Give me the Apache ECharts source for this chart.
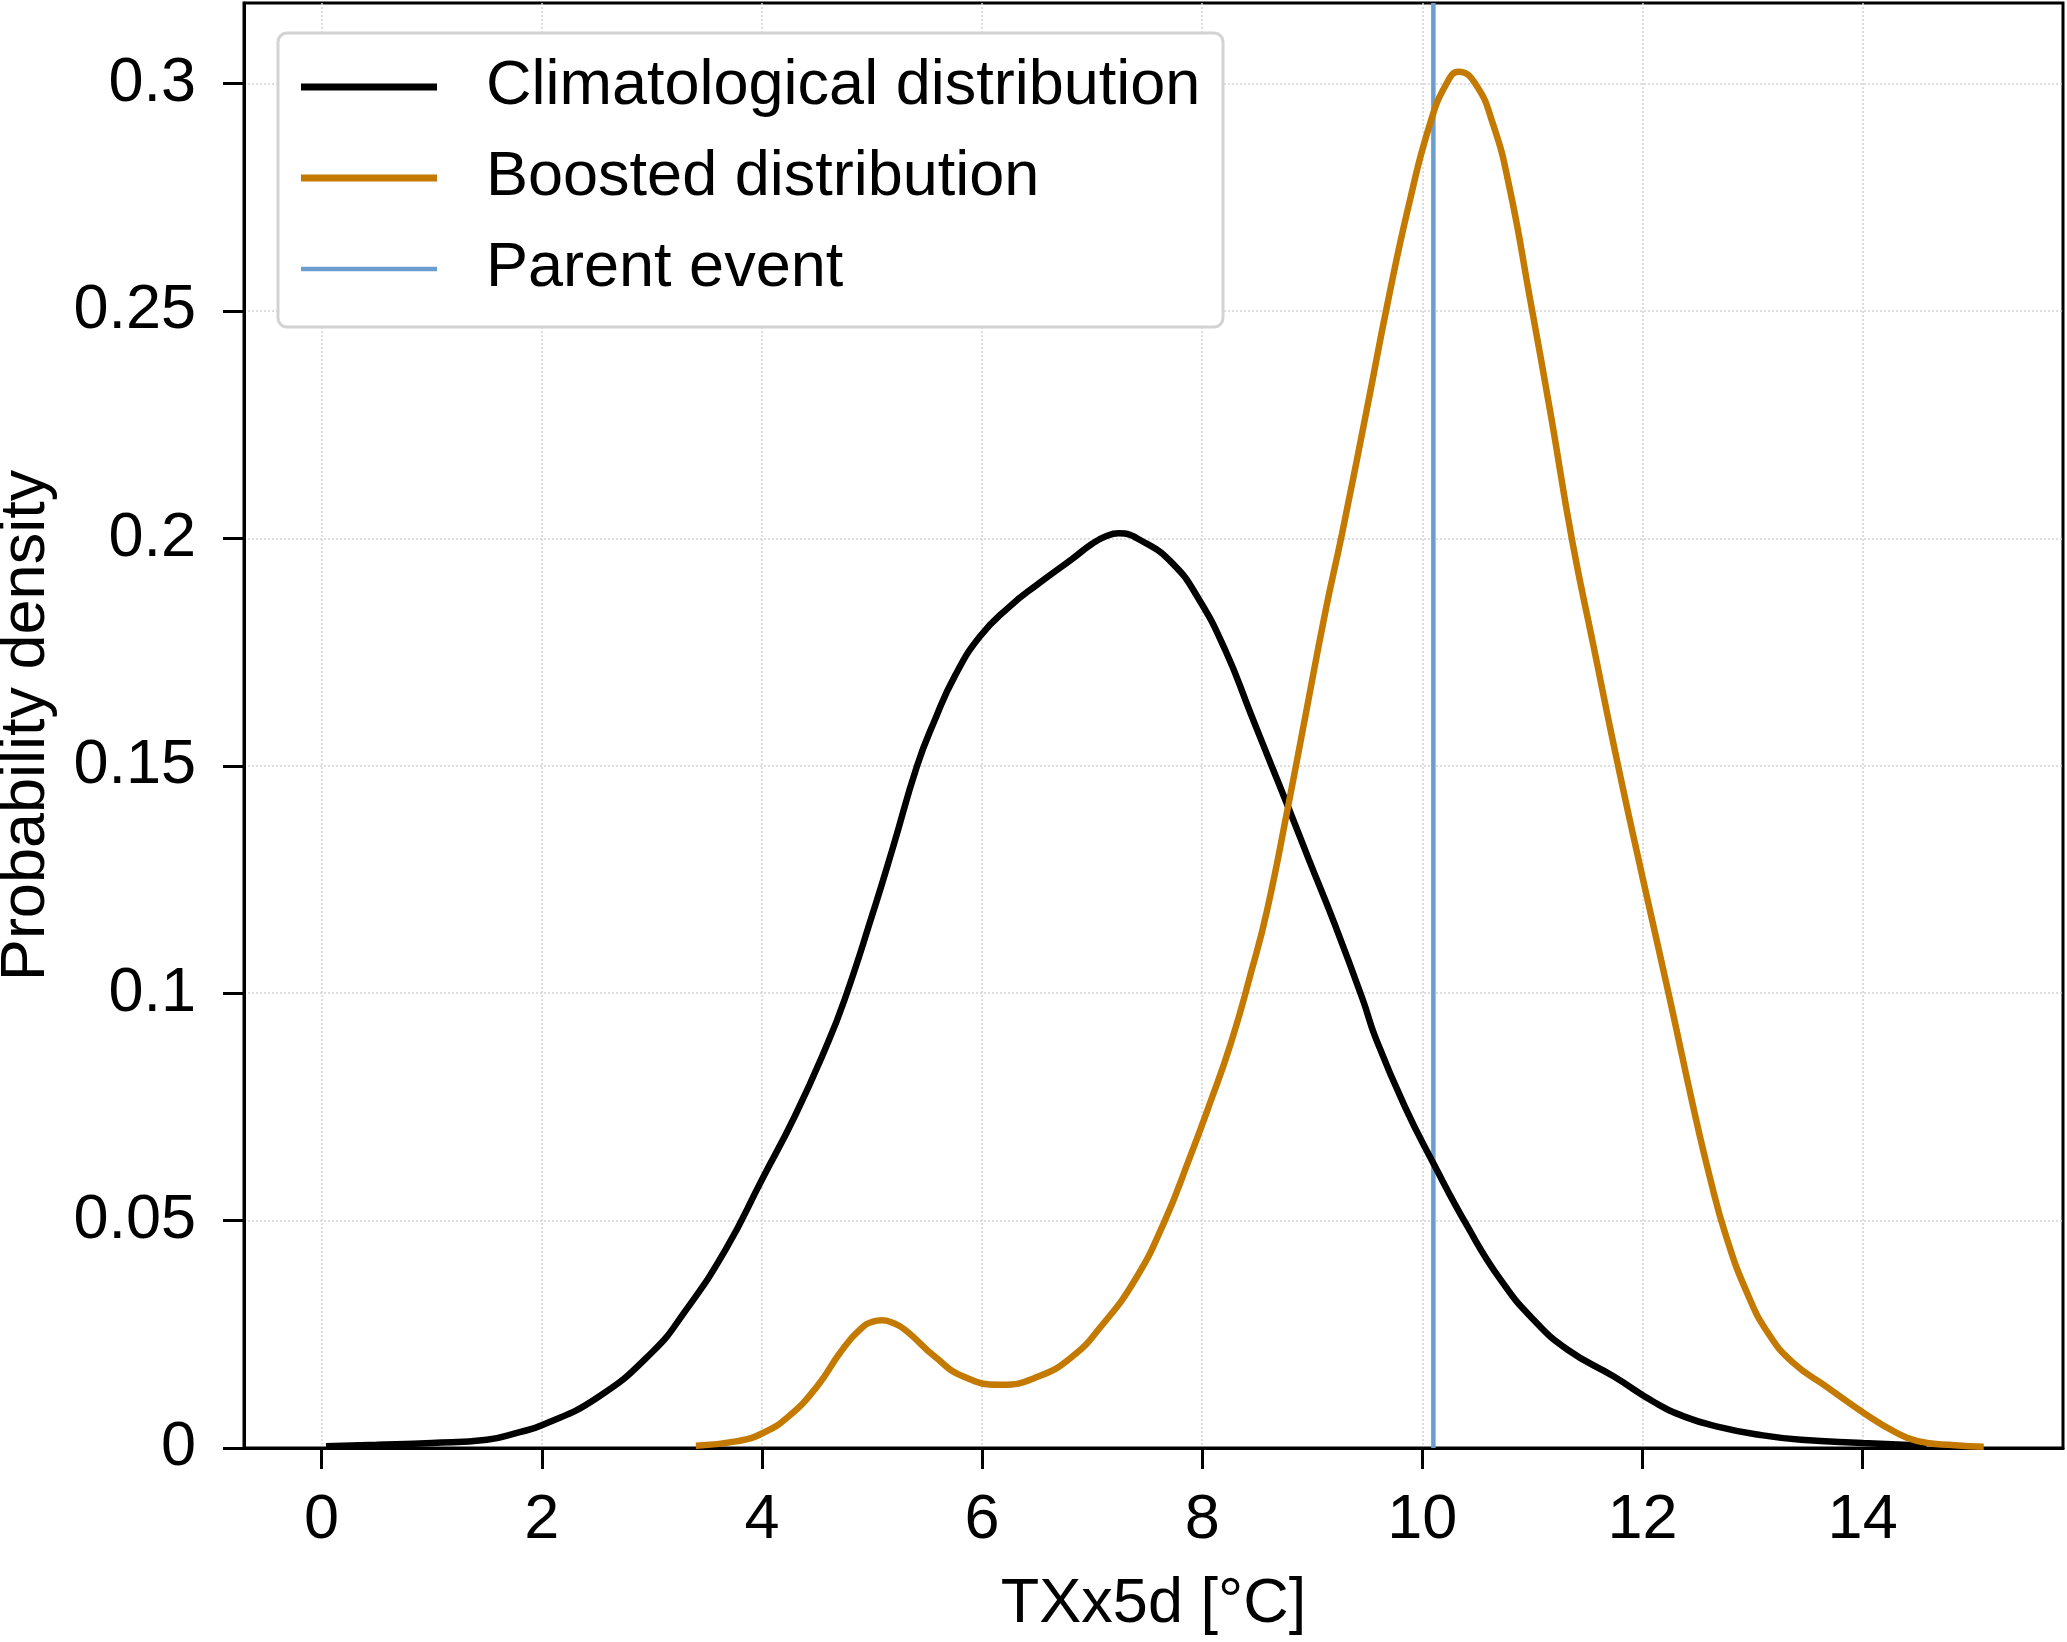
<!DOCTYPE html>
<html><head><meta charset="utf-8">
<script src="https://cdn.jsdelivr.net/npm/echarts@6/dist/echarts.min.js"></script>
<style>html,body{margin:0;padding:0;background:#fff}#c{width:2067px;height:1642px}</style>
</head><body><div id="c"></div>
<script>
// ---- data ----
const climX = [0.04, 0.5, 1.0, 1.5, 1.8, 2.0, 2.5, 3.0, 3.3, 3.67, 4.0, 4.3, 4.58, 4.75, 5.0, 5.19, 5.41, 5.57, 5.75, 5.98, 6.25, 6.51, 6.82, 7.0, 7.12, 7.24, 7.46, 7.73, 7.96, 8.21, 8.44, 8.63, 8.78, 8.97, 9.2, 9.46, 9.57, 9.84, 10.1, 10.41, 10.71, 11.01, 11.32, 11.74, 12.12, 12.38, 12.68, 13.06, 13.44, 14.0, 14.58];
const climY = [0.0004, 0.0007, 0.0011, 0.0018, 0.0035, 0.005, 0.011, 0.021, 0.030, 0.0436, 0.059, 0.073, 0.088, 0.0985, 0.117, 0.132, 0.150, 0.160, 0.1696, 0.1784, 0.185, 0.190, 0.1955, 0.1988, 0.2004, 0.2011, 0.1993, 0.1945, 0.187, 0.1754, 0.1615, 0.150, 0.141, 0.1293, 0.1154, 0.0985, 0.0905, 0.0751, 0.0626, 0.0487, 0.037, 0.0282, 0.0216, 0.0157, 0.0099, 0.0069, 0.0047, 0.0029, 0.0018, 0.0011, 0.0005];
const boostX = [3.40, 3.78, 4.01, 4.24, 4.50, 4.73, 4.92, 5.00, 5.09, 5.18, 5.30, 5.57, 5.83, 6.17, 6.51, 6.82, 7.08, 7.39, 7.65, 7.88, 8.07, 8.26, 8.45, 8.59, 8.78, 8.93, 9.12, 9.27, 9.50, 9.69, 9.88, 10.07, 10.22, 10.33, 10.48, 10.64, 10.79, 10.98, 11.17, 11.36, 11.55, 11.78, 12.00, 12.25, 12.46, 12.61, 12.76, 12.95, 13.14, 13.37, 13.67, 14.01, 14.28, 14.50, 14.84, 15.10];
const boostY = [0.0005, 0.0015, 0.0033, 0.0069, 0.0135, 0.0216, 0.0267, 0.0277, 0.0281, 0.0276, 0.0260, 0.0201, 0.0157, 0.0139, 0.0157, 0.0201, 0.0267, 0.0370, 0.0494, 0.0634, 0.0758, 0.0890, 0.1051, 0.1183, 0.1410, 0.1600, 0.1840, 0.2010, 0.2289, 0.2524, 0.2736, 0.2912, 0.3000, 0.3026, 0.3000, 0.2912, 0.2773, 0.2524, 0.2267, 0.1996, 0.1769, 0.1498, 0.1255, 0.0985, 0.0751, 0.0597, 0.0465, 0.0341, 0.0253, 0.0187, 0.0135, 0.0077, 0.0037, 0.0015, 0.0006, 0.0003];
const parentEvent = 10.1;
const xTicks = [0, 2, 4, 6, 8, 10, 12, 14];
const yTicks = [0, 0.05, 0.1, 0.15, 0.2, 0.25, 0.3];
const xRange = [-0.705, 15.82];
const yRange = [0, 0.3177];
const seriesNames = ['Climatological distribution', 'Boosted distribution', 'Parent event'];
const xLabel = 'TXx5d [°C]';
const yLabel = 'Probability density';

// ---- chart ----
const FONT = 'Liberation Sans';
const FS = 63;
const pairs = (xs, ys) => xs.map((x, i) => [x, ys[i]]);
const chart = echarts.init(document.getElementById('c'), null, {renderer: 'canvas'});
const axisCommon = {
  axisLine: {show: true, onZero: false, lineStyle: {color: '#000', width: 3}},
  axisTick: {show: true, inside: false, length: 21, lineStyle: {color: '#000', width: 3}},
  splitLine: {show: true, lineStyle: {color: '#d4d4d4', width: 1.5, type: [2, 2]}},
  nameTextStyle: {fontFamily: FONT, fontSize: FS, color: '#000'},
  nameLocation: 'middle'
};
chart.setOption({
  animation: false,
  backgroundColor: '#fff',
  textStyle: {fontFamily: FONT},
  grid: {left: 244, right: 4, top: 3, bottom: 194, containLabel: false, outerBoundsMode: 'none',
         show: true, borderColor: '#000', borderWidth: 3, backgroundColor: 'transparent'},
  xAxis: Object.assign({}, axisCommon, {
    type: 'value', min: xRange[0], max: xRange[1], splitNumber: 8,
    name: xLabel, nameGap: 125,
    axisTick: Object.assign({}, axisCommon.axisTick, {customValues: xTicks}),
    axisLabel: {customValues: xTicks, fontFamily: FONT, fontSize: FS, color: '#000', margin: 41, formatter: v => String(v)}
  }),
  yAxis: Object.assign({}, axisCommon, {
    type: 'value', min: yRange[0], max: yRange[1], splitNumber: 6,
    name: yLabel, nameGap: 186, nameRotate: 90,
    axisTick: Object.assign({}, axisCommon.axisTick, {customValues: yTicks}),
    axisLabel: {customValues: yTicks, fontFamily: FONT, fontSize: FS, color: '#000', margin: 48, formatter: v => String(+v.toFixed(2))}
  }),
  legend: {
    orient: 'vertical', left: 301, top: 52, z: 20, padding: 0,
    itemWidth: 136, itemHeight: 7, itemGap: 21,
    icon: 'rect',
    itemStyle: {borderWidth: 0},
    textStyle: {fontFamily: FONT, fontSize: FS, color: '#000', lineHeight: 70, padding: [0, 0, 0, 44]},
    data: [
      {name: seriesNames[0]},
      {name: seriesNames[1]},
      {name: seriesNames[2], icon: 'path://M0,-3.5L136,-3.5M0,3.5L136,3.5M0,-2.2H136V2.2H0Z'}
    ],
    selectedMode: false
  },
  graphic: [{
    type: 'rect', z: 10,
    shape: {x: 278, y: 33, width: 945, height: 294, r: 9},
    style: {fill: '#fff', stroke: '#d3d3d3', lineWidth: 3}
  }],
  series: [
    {name: seriesNames[0], type: 'line', data: pairs(climX, climY), symbol: 'none', smooth: 0.5,
     color: '#000', lineStyle: {color: '#000', width: 6.5}, z: 3},
    {name: seriesNames[1], type: 'line', data: pairs(boostX, boostY), symbol: 'none', smooth: 0.5,
     color: '#c47a00', lineStyle: {color: '#c47a00', width: 6.5}, z: 3},
    {name: seriesNames[2], type: 'line', data: [[parentEvent, yRange[0]], [parentEvent, yRange[1]]], symbol: 'none',
     color: '#6c9dcf', lineStyle: {color: '#6c9dcf', width: 4.5}, z: 2}
  ]
});
</script></body></html>
